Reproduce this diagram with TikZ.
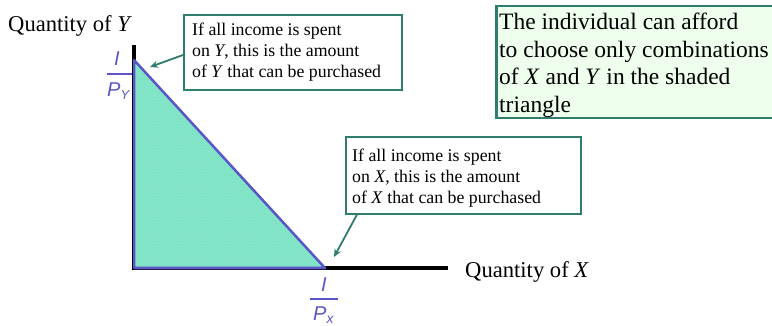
\documentclass[tikz,border=0pt]{standalone}
\usepackage{fontspec}
\setmainfont{Liberation Serif}
\setsansfont{Liberation Sans}
\usetikzlibrary{arrows.meta,patterns}
\definecolor{boxline}{HTML}{2E7D6E}
\definecolor{budget}{HTML}{5A55C8}
\definecolor{shadefill}{HTML}{80E6C8}
\definecolor{lightbox}{HTML}{EEFFEE}
\begin{document}
\begin{tikzpicture}[x=1pt,y=-1pt,
  note/.style={draw=boxline,line width=1.6pt,fill=white,anchor=north west,inner sep=0pt},
  ln/.style={anchor=base west,inner sep=0pt,font=\fontsize{17.8}{21}\selectfont},
  bigln/.style={anchor=base west,inner sep=0pt,font=\fontsize{23.5}{27}\selectfont},
  axlab/.style={anchor=base west,inner sep=0pt,font=\fontsize{22.6}{26}\selectfont},
  callout/.style={draw=boxline,line width=1.8pt,-{Stealth[length=8pt,width=7pt]}},
  fraclab/.style={text=budget,inner sep=0pt,font=\fontsize{20}{24}\selectfont\sffamily\itshape},
  fracrule/.style={draw=budget,line width=1.1pt}]
\useasboundingbox (0,0) rectangle (772,326);
% axes
\draw[line width=4pt] (134,45) -- (134,268) coordinate (O) -- (448,268) coordinate (xend);
% triangle
\coordinate (A) at (134,60);
\coordinate (B) at (325,268);
\fill[shadefill] (A) -- (O) -- (B) -- cycle;
\fill[pattern=dots,pattern color=shadefill!70!black!60] (A) -- (O) -- (B) -- cycle;
\draw[budget,line width=2.5pt,line join=round] (A) -- (O) -- (B) -- cycle;
% axis labels
\node[axlab] (ylab) at (8,32) {Quantity of \textit{Y}};
\node[axlab] (xlab) at (465,277) {Quantity of \textit{X}};
% intercept labels
\node[fraclab,anchor=base] (iyn) at (117,66) {I};
\draw[fracrule] (107,74) coordinate (ry1) -- (132,74) coordinate (ry2);
\node[fraclab,anchor=base west] (iyd) at (107,97) {P\raisebox{-3pt}{\fontsize{13}{14}\selectfont Y}};
\node[fraclab,anchor=base] (ixn) at (324,291) {I};
\draw[fracrule] (310,299) coordinate (rx1) -- (338,299) coordinate (rx2);
\node[fraclab,anchor=base west] (ixd) at (313,320) {P\raisebox{-3pt}{\fontsize{14}{15}\selectfont x}};
% callout 1
\node[note,minimum width=218pt,minimum height=75pt] (n1) at (183,14) {};
\node[ln] (n1a) at (192,36) {If all income is spent};
\node[ln] (n1b) at (192,57) {on \textit{Y}, this is the amount};
\node[ln] (n1c) at (192,78) {of \textit{Y} that can be purchased};
% callout 2
\node[note,minimum width=235pt,minimum height=77pt] (n2) at (345,136) {};
\node[ln] (n2a) at (352,162) {If all income is spent};
\node[ln] (n2b) at (352,183) {on \textit{X}, this is the amount};
\node[ln] (n2c) at (352,204) {of \textit{X} that can be purchased};
\coordinate (t1) at (150,67);
\coordinate (t2) at (334,257);
\draw[callout] (n1.west |- 0,55) -- (t1);
\draw[callout] (n2.south west) ++(12,0) coordinate (s2) -- (t2);
% summary box
\node[draw=boxline,line width=2.5pt,fill=lightbox,anchor=north west,minimum width=282pt,minimum height=112pt,inner sep=0pt] (n3) at (495,5) {};
\node[bigln] (n3a) at (499,30) {The individual can afford};
\node[bigln] (n3b) at (499,57.5) {to choose only combinations};
\node[bigln] (n3c) at (499,85) {of \textit{X} and \textit{Y} in the shaded};
\node[bigln] (n3d) at (499,112.5) {triangle};
\end{tikzpicture}
\end{document}
